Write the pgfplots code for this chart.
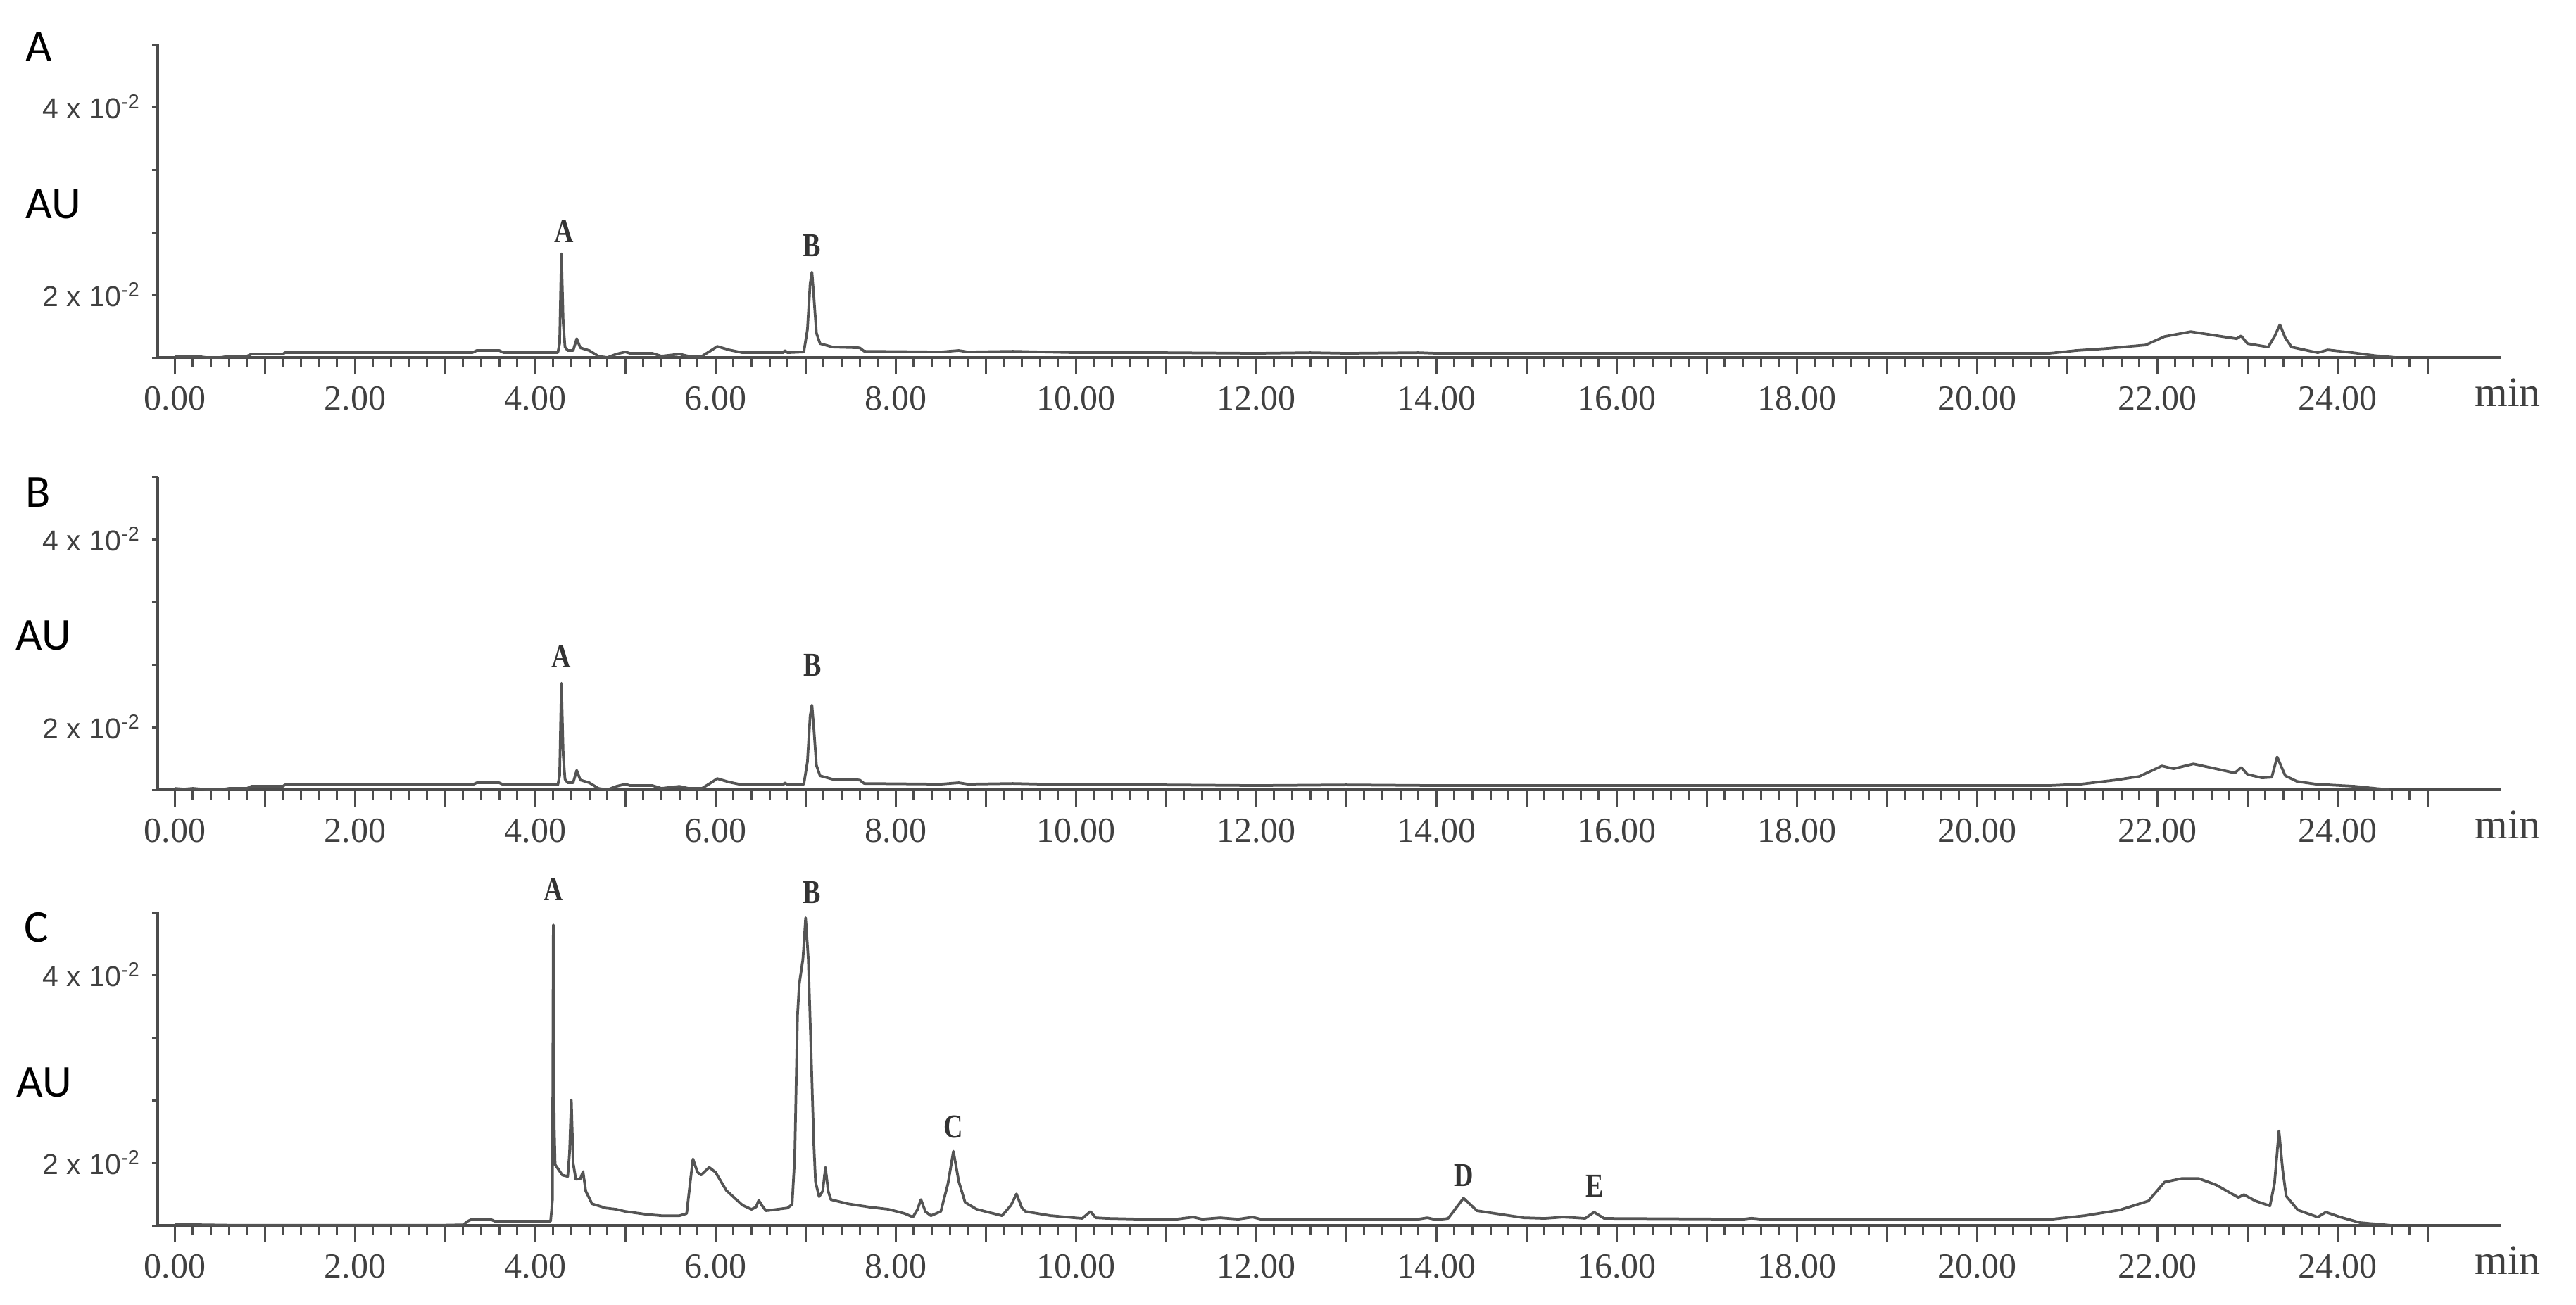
\documentclass[border=0pt]{standalone}
\usepackage{fontspec}
\setmainfont{Liberation Serif}
\newfontfamily\lsans{Liberation Sans}
\newfontfamily\carlito{Carlito}
\usepackage{pgfplots}
\usepackage{pgfplotstable}
\pgfplotsset{compat=1.18}

\definecolor{trace}{gray}{0.33}
\definecolor{axcol}{gray}{0.30}
\definecolor{txtcol}{gray}{0.25}

% time (min)   absorbance (x 10^-2 AU)
\pgfplotstableread{
t v
0.00 1.348
0.10 1.340
0.20 1.348
0.30 1.340
0.35 1.333
0.50 1.333
0.55 1.340
0.60 1.348
0.80 1.348
0.85 1.370
1.20 1.370
1.22 1.385
3.30 1.385
3.35 1.408
3.60 1.408
3.65 1.385
4.25 1.385
4.27 1.482
4.29 2.437
4.31 1.706
4.33 1.445
4.36 1.408
4.42 1.408
4.46 1.534
4.50 1.437
4.60 1.408
4.70 1.348
4.80 1.333
4.90 1.370
5.00 1.393
5.05 1.378
5.30 1.378
5.40 1.348
5.60 1.370
5.70 1.348
5.85 1.348
5.95 1.408
6.02 1.452
6.15 1.415
6.30 1.385
6.75 1.385
6.77 1.408
6.80 1.385
6.98 1.393
7.02 1.631
7.05 2.116
7.07 2.243
7.09 2.004
7.12 1.594
7.16 1.482
7.30 1.445
7.60 1.437
7.65 1.400
8.50 1.393
8.70 1.408
8.80 1.393
9.30 1.400
10.00 1.385
11.00 1.385
12.00 1.378
12.60 1.385
13.00 1.378
13.80 1.385
14.00 1.378
20.80 1.378
21.10 1.408
21.44 1.430
21.87 1.467
22.08 1.557
22.37 1.609
22.72 1.557
22.88 1.534
22.93 1.564
23.00 1.482
23.23 1.445
23.30 1.557
23.36 1.683
23.42 1.542
23.49 1.445
23.60 1.422
23.78 1.385
23.89 1.415
24.17 1.385
24.40 1.355
24.65 1.333
}\dataA

\pgfplotstableread{
t v
0.00 1.348
0.10 1.340
0.20 1.348
0.30 1.340
0.35 1.333
0.50 1.333
0.55 1.340
0.60 1.348
0.80 1.348
0.85 1.370
1.20 1.370
1.22 1.385
3.30 1.385
3.35 1.408
3.60 1.408
3.65 1.385
4.25 1.385
4.27 1.482
4.29 2.466
4.31 1.706
4.33 1.445
4.36 1.408
4.42 1.408
4.46 1.540
4.50 1.437
4.60 1.408
4.70 1.348
4.80 1.333
4.90 1.370
5.00 1.393
5.05 1.378
5.30 1.378
5.40 1.348
5.60 1.370
5.70 1.348
5.85 1.348
5.95 1.408
6.02 1.452
6.15 1.415
6.30 1.385
6.75 1.385
6.77 1.408
6.80 1.385
6.98 1.393
7.02 1.631
7.05 2.116
7.07 2.235
7.09 2.004
7.12 1.594
7.16 1.482
7.30 1.445
7.60 1.437
7.65 1.400
8.50 1.393
8.70 1.408
8.80 1.393
9.30 1.400
10.00 1.385
11.00 1.385
12.00 1.378
13.00 1.385
14.00 1.378
20.80 1.378
21.15 1.393
21.54 1.437
21.80 1.475
22.05 1.587
22.18 1.557
22.40 1.609
22.65 1.557
22.86 1.512
22.93 1.572
23.00 1.497
23.16 1.460
23.27 1.467
23.33 1.683
23.42 1.482
23.55 1.422
23.76 1.393
24.19 1.370
24.57 1.333
}\dataB

\pgfplotstableread{
t v
0.00 1.348
0.30 1.340
0.60 1.336
3.00 1.336
3.20 1.340
3.25 1.378
3.30 1.400
3.50 1.400
3.55 1.378
4.17 1.378
4.19 1.600
4.20 4.532
4.21 2.400
4.22 1.982
4.30 1.870
4.36 1.855
4.38 2.100
4.40 2.668
4.42 2.000
4.45 1.825
4.50 1.830
4.53 1.907
4.56 1.700
4.63 1.564
4.78 1.519
4.90 1.505
5.00 1.482
5.23 1.452
5.40 1.437
5.60 1.437
5.68 1.460
5.72 1.800
5.75 2.041
5.80 1.900
5.84 1.870
5.93 1.952
6.00 1.900
6.12 1.706
6.30 1.549
6.40 1.505
6.45 1.530
6.48 1.601
6.52 1.540
6.56 1.490
6.80 1.519
6.85 1.557
6.88 2.079
6.91 3.570
6.93 3.906
6.97 4.167
7.00 4.607
7.03 4.167
7.06 3.197
7.09 2.228
7.11 1.795
7.15 1.639
7.19 1.700
7.22 1.952
7.25 1.700
7.28 1.609
7.47 1.564
7.70 1.530
7.92 1.505
8.10 1.460
8.19 1.422
8.24 1.500
8.28 1.609
8.33 1.480
8.39 1.437
8.50 1.482
8.58 1.780
8.64 2.123
8.70 1.800
8.77 1.579
8.90 1.505
9.18 1.437
9.28 1.550
9.34 1.669
9.40 1.520
9.44 1.482
9.72 1.437
10.07 1.408
10.16 1.482
10.22 1.415
10.35 1.408
11.06 1.393
11.30 1.422
11.40 1.400
11.60 1.415
11.80 1.400
11.96 1.422
12.05 1.400
13.80 1.400
13.90 1.415
14.00 1.393
14.13 1.408
14.30 1.624
14.45 1.490
14.71 1.452
14.97 1.415
15.20 1.408
15.40 1.422
15.55 1.415
15.65 1.408
15.75 1.475
15.86 1.408
17.40 1.400
17.50 1.410
17.60 1.400
19.00 1.400
19.10 1.393
20.83 1.400
21.19 1.437
21.58 1.497
21.90 1.594
22.08 1.795
22.27 1.833
22.46 1.833
22.65 1.766
22.90 1.631
22.96 1.661
23.09 1.594
23.25 1.542
23.30 1.780
23.35 2.340
23.39 1.930
23.43 1.646
23.56 1.497
23.78 1.422
23.87 1.475
24.03 1.422
24.25 1.363
24.60 1.333
}\dataC

\tikzset{
  pk/.style={font=\fontsize{9.5}{11}\selectfont\bfseries, text=black!80, xscale=0.8, inner sep=0pt},
  pl/.style={font=\carlito\fontsize{13}{15}\selectfont, inner sep=0pt},
  mn/.style={font=\fontsize{12}{14}\selectfont, text=txtcol, inner sep=0pt},
  tr/.style={draw=trace, line width=0.75pt, mark=none, line join=round},
}

\pgfplotsset{
  chrom/.style={
    scale only axis, width=665.6pt, height=89pt,
    anchor=south west,
    xmin=-0.19, xmax=25.81,
    ymin=1.33333, ymax=4.66667,
    axis x line=bottom, axis y line=left,
    axis line style={-, draw=axcol, line width=0.7pt},
    clip=false,
    tick align=outside,
    xtick={0,1,...,25},
    xticklabels={0.00,,2.00,,4.00,,6.00,,8.00,,10.00,,12.00,,14.00,,16.00,,18.00,,20.00,,22.00,,24.00,},
    minor x tick num=4,
    major tick length=4.8pt,
    minor tick length=2.8pt,
    ytick={2,4},
    yticklabels={{\lsans 2 x 10\textsuperscript{-2}},{\lsans 4 x 10\textsuperscript{-2}}},
    minor ytick={1.33333,2.66667,3.33333,4.66667},
    ytick style={/pgfplots/major tick length=1.6pt,/pgfplots/minor tick length=1.6pt},
    tick style={draw=axcol, line width=0.6pt},
    xticklabel style={font=\fontsize{10}{11}\selectfont, text=txtcol},
    yticklabel style={font=\fontsize{8.2}{9}\selectfont, text=txtcol, xshift=3.6pt},
  },
}

\begin{document}
\begin{tikzpicture}
\useasboundingbox (0,0) rectangle (731.8pt,370.6pt);

% Panel A
\begin{axis}[chrom, at={(44.8pt,269pt)}]
\addplot[tr] table[x=t,y=v] {\dataA};
\node[pk] at (axis cs:4.32,2.675) {A};
\node[pk] at (axis cs:7.07,2.526) {B};
\node[pl] at (rel axis cs:-0.0508,0.991) {A};
\node[pl] at (rel axis cs:-0.0445,0.49) {AU};
\node[mn] at ([yshift=-10pt]rel axis cs:1.003,0) {min};
\end{axis}

% Panel B
\begin{axis}[chrom, at={(44.8pt,146.2pt)}]
\addplot[tr] table[x=t,y=v] {\dataB};
\node[pk] at (axis cs:4.29,2.75) {A};
\node[pk] at (axis cs:7.08,2.66) {B};
\node[pl] at (rel axis cs:-0.0511,0.950) {B};
\node[pl] at (rel axis cs:-0.0487,0.492) {AU};
\node[mn] at ([yshift=-10pt]rel axis cs:1.003,0) {min};
\end{axis}

% Panel C
\begin{axis}[chrom, at={(44.8pt,22.4pt)}]
\addplot[tr] table[x=t,y=v] {\dataC};
\node[pk] at (axis cs:4.20,4.905) {A};
\node[pk] at (axis cs:7.07,4.88) {B};
\node[pk] at (axis cs:8.64,2.38) {C};
\node[pk] at (axis cs:14.30,1.862) {D};
\node[pk] at (axis cs:15.76,1.751) {E};
\node[pl] at (rel axis cs:-0.0517,0.951) {C};
\node[pl] at (rel axis cs:-0.0484,0.457) {AU};
\node[mn] at ([yshift=-10pt]rel axis cs:1.003,0) {min};
\end{axis}
\end{tikzpicture}
\end{document}
